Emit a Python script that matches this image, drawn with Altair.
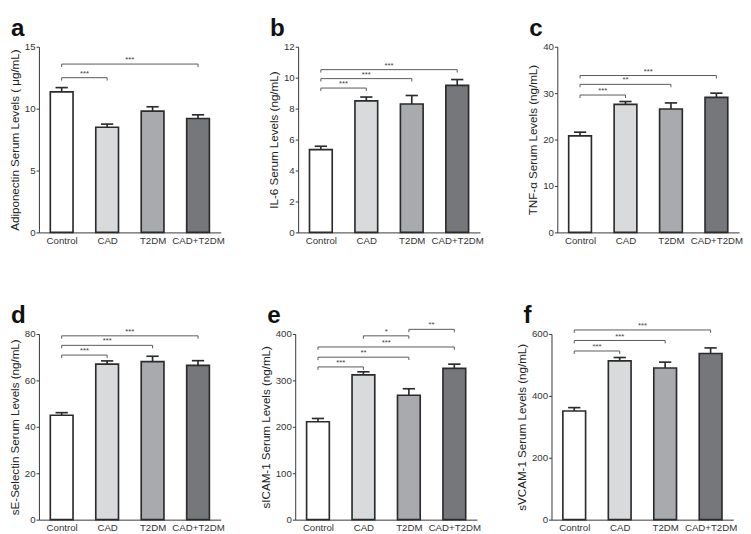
import altair as alt
import pandas as pd

groups = ["Control", "CAD", "T2DM", "CAD+T2DM"]
fills = ["#ffffff", "#d9dadc", "#a9aaae", "#76777b"]

letters = ["a", "b", "c", "d", "e", "f"]
ytitles = [
    "Adiponectin Serum Levels ( μg/mL)",
    "IL-6 Serum Levels (ng/mL)",
    "TNF-α Serum Levels (ng/mL)",
    "sE-Selectin Serum Levels (ng/mL)",
    "sICAM-1 Serum Levels (ng/mL)",
    "sVCAM-1 Serum Levels (ng/mL)",
]
ymax = [15, 12, 40, 80, 400, 600]
ystep = [5, 2, 10, 20, 100, 200]

# means and SEM (upper error) per panel
means_a = [11.35, 8.5, 9.8, 9.2]
sem_a = [0.35, 0.25, 0.35, 0.3]
means_b = [5.35, 8.5, 8.3, 9.5]
sem_b = [0.22, 0.25, 0.55, 0.38]
means_c = [20.8, 27.6, 26.6, 29.1]
sem_c = [0.8, 0.6, 1.3, 0.9]
means_d = [45.0, 67.0, 68.1, 66.5]
sem_d = [1.1, 1.4, 2.3, 2.0]
means_e = [211, 312, 268, 326]
sem_e = [7, 6.5, 14, 9]
means_f = [351, 513, 490, 537]
sem_f = [11, 11, 19, 18]

# significance brackets: from, to, height, label
br_from_a = ["Control", "Control"]
br_to_a = ["CAD", "CAD+T2DM"]
br_y_a = [12.5, 13.6]
br_lab_a = ["***", "***"]

br_from_b = ["Control", "Control", "Control"]
br_to_b = ["CAD", "T2DM", "CAD+T2DM"]
br_y_b = [9.33, 9.94, 10.52]
br_lab_b = ["***", "***", "***"]

br_from_c = ["Control", "Control", "Control"]
br_to_c = ["CAD", "T2DM", "CAD+T2DM"]
br_y_c = [29.6, 31.9, 33.8]
br_lab_c = ["***", "**", "***"]

br_from_d = ["Control", "Control", "Control"]
br_to_d = ["CAD", "T2DM", "CAD+T2DM"]
br_y_d = [70.9, 75.1, 79.2]
br_lab_d = ["***", "***", "***"]

br_from_e = ["Control", "Control", "Control", "CAD", "T2DM"]
br_to_e = ["CAD", "T2DM", "CAD+T2DM", "T2DM", "CAD+T2DM"]
br_y_e = [329, 350, 372, 396, 410]
br_lab_e = ["***", "**", "***", "*", "**"]

br_from_f = ["Control", "Control", "Control"]
br_to_f = ["CAD", "T2DM", "CAD+T2DM"]
br_y_f = [545, 579, 613]
br_lab_f = ["***", "***", "***"]

FONT = "Liberation Sans"
INK = "#2b2b2b"
W = 188
H = 192


def panel(k, means, sems, bf, bt, by, bl):
    pos = {g: i for i, g in enumerate(groups)}
    df = pd.DataFrame({"group": groups, "idx": list(range(4)), "mean": means, "sem": sems})
    df["top"] = df["mean"] + df["sem"]
    df["x0"] = df["idx"] - 0.25
    df["x1"] = df["idx"] + 0.25
    df["c0"] = df["idx"] - 0.135
    df["c1"] = df["idx"] + 0.135

    br = pd.DataFrame({"f": [pos[g] for g in bf], "t": [pos[g] for g in bt], "y": by, "lab": bl})
    br["mid"] = (br["f"] + br["t"]) / 2
    legs = pd.concat([
        pd.DataFrame({"x": br["f"], "y": br["y"]}),
        pd.DataFrame({"x": br["t"], "y": br["y"]}),
    ])

    xs = alt.Scale(domain=[-0.5, 3.5], nice=False, zero=False)
    ys = alt.Scale(domain=[0, ymax[k]], nice=False)
    xaxis = alt.Axis(
        values=[0, 1, 2, 3],
        labelExpr="['Control','CAD','T2DM','CAD+T2DM'][datum.value]",
        ticks=False, grid=False, title=None, labelPadding=3,
    )
    yaxis = alt.Axis(
        values=list(range(0, ymax[k] + 1, ystep[k])), grid=False, title=ytitles[k],
        tickSize=3, labelPadding=1, titlePadding=3,
    )

    def X(f):
        return alt.X(f, scale=xs, axis=xaxis)

    def Y(f):
        return alt.Y(f, scale=ys, axis=yaxis)

    bars = alt.Chart(df).mark_bar(stroke=INK, strokeWidth=1.7).encode(
        x=X("x0:Q"),
        x2="x1",
        y=Y("mean:Q"),
        y2=alt.datum(0),
        fill=alt.Fill("group:N", scale=alt.Scale(domain=groups, range=fills), legend=None),
    )
    err = alt.Chart(df).mark_rule(color=INK, strokeWidth=1.7).encode(
        x=X("idx:Q"), y=Y("mean:Q"), y2="top",
    )
    cap = alt.Chart(df).mark_rule(color=INK, strokeWidth=1.7).encode(
        x=X("c0:Q"), x2="c1", y=Y("top:Q"),
    )
    hline = alt.Chart(br).mark_rule(color="#555555", strokeWidth=1).encode(
        x=X("f:Q"), x2="t", y=Y("y:Q"),
    )
    leg = alt.Chart(legs).mark_rule(color="#555555", strokeWidth=1, y2Offset=3).encode(
        x=X("x:Q"), y=Y("y:Q"), y2=alt.Y2("y"),
    )
    stars = alt.Chart(br).mark_text(fontSize=8, baseline="alphabetic", dy=-2, color="#444444", font=FONT).encode(
        x=X("mid:Q"), y=Y("y:Q"), text="lab:N",
    )
    letter = alt.Chart(pd.DataFrame({"t": [letters[k]]})).mark_text(
        align="left", baseline="top", fontSize=25, fontWeight="bold", font=FONT, color="#111111"
    ).encode(x=alt.value(-29), y=alt.value(-31), text="t:N")

    return alt.layer(bars, err, cap, hline, leg, stars, letter).properties(width=W, height=H)


row1 = alt.hconcat(
    panel(0, means_a, sem_a, br_from_a, br_to_a, br_y_a, br_lab_a),
    panel(1, means_b, sem_b, br_from_b, br_to_b, br_y_b, br_lab_b),
    panel(2, means_c, sem_c, br_from_c, br_to_c, br_y_c, br_lab_c),
    spacing=44,
)
row2 = alt.hconcat(
    panel(3, means_d, sem_d, br_from_d, br_to_d, br_y_d, br_lab_d),
    panel(4, means_e, sem_e, br_from_e, br_to_e, br_y_e, br_lab_e),
    panel(5, means_f, sem_f, br_from_f, br_to_f, br_y_f, br_lab_f),
    spacing=36,
)

chart = alt.vconcat(row1, row2, spacing=61).properties(
    padding=0, background="white"
).configure_view(stroke=None).configure_axis(
    domainColor="#333333", tickColor="#333333", labelColor="#333333", titleColor="#222222",
    labelFont=FONT, titleFont=FONT, labelFontSize=10, titleFontSize=12,
    titleFontWeight="normal", domainWidth=1, tickWidth=1, minExtent=0,
)

chart.save("out.html", embed_options={"renderer": "svg", "actions": False})
